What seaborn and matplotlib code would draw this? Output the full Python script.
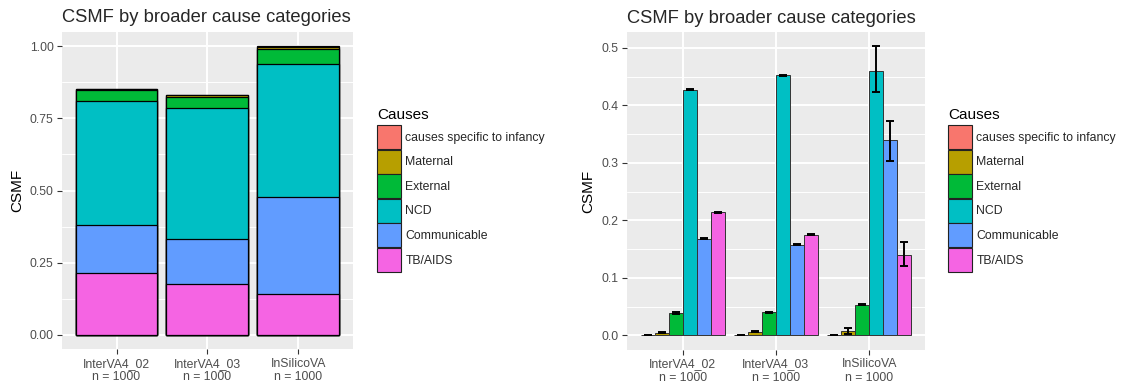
import numpy as np
import pandas as pd
import matplotlib
matplotlib.use("Agg")
import matplotlib.pyplot as plt
from matplotlib.patches import Patch
from matplotlib.ticker import MultipleLocator
import seaborn as sns

# ---- data -------------------------------------------------------------
methods = ["InterVA4_02", "InterVA4_03", "InSilicoVA"]
method_labels = ["InterVA4_02\nn = 1000", "InterVA4_03\nn = 1000", "InSilicoVA\nn = 1000"]
causes = ["causes specific to infancy", "Maternal", "External", "NCD",
          "Communicable", "TB/AIDS"]
palette = ["#F8766D", "#B79F00", "#00BA38", "#00BFC4", "#619CFF", "#F564E3"]

# CSMF point estimates, one list per method (in the order of `causes`)
csmf_interva02 = [0.000, 0.005, 0.039, 0.427, 0.168, 0.214]
csmf_interva03 = [0.000, 0.0065, 0.040, 0.452, 0.158, 0.175]
csmf_insilico = [0.0005, 0.008, 0.053, 0.459, 0.339, 0.140]

# lower / upper interval bounds
lower_interva02 = [0.000, 0.0045, 0.038, 0.426, 0.167, 0.213]
upper_interva02 = [0.000, 0.0055, 0.040, 0.428, 0.169, 0.215]
lower_interva03 = [0.000, 0.006, 0.039, 0.451, 0.157, 0.174]
upper_interva03 = [0.000, 0.007, 0.041, 0.453, 0.159, 0.176]
lower_insilico = [0.000, 0.003, 0.052, 0.423, 0.303, 0.120]
upper_insilico = [0.001, 0.013, 0.054, 0.503, 0.373, 0.162]

rows = []
for m, vals, lo, hi in [
    (methods[0], csmf_interva02, lower_interva02, upper_interva02),
    (methods[1], csmf_interva03, lower_interva03, upper_interva03),
    (methods[2], csmf_insilico, lower_insilico, upper_insilico),
]:
    for c, v, l, h in zip(causes, vals, lo, hi):
        rows.append({"method": m, "cause": c, "csmf": v, "lower": l, "upper": h})
df = pd.DataFrame(rows)

# ---- style ------------------------------------------------------------
sns.set_theme(style="darkgrid", rc={
    "axes.facecolor": "#EBEBEB",
    "grid.color": "white",
    "axes.edgecolor": "#EBEBEB",
    "xtick.color": "#333333",
    "ytick.color": "#333333",
    "xtick.labelcolor": "#4D4D4D",
    "ytick.labelcolor": "#4D4D4D",
    "axes.labelcolor": "black",
})
plt.rcParams["font.family"] = ["Liberation Sans", "DejaVu Sans"]

W, H = 1123, 385
fig = plt.figure(figsize=(W / 100, H / 100), dpi=100)


def px_axes(left, top, right, bottom):
    return fig.add_axes([left / W, 1 - bottom / H, (right - left) / W, (bottom - top) / H])


ax1 = px_axes(62, 31.8, 352.7, 349.3)
ax2 = px_axes(626.7, 32.3, 925, 350)


def style_axes(ax, minor_step):
    for s in ax.spines.values():
        s.set_visible(False)
    ax.yaxis.set_minor_locator(MultipleLocator(minor_step))
    ax.grid(which="major", color="white", linewidth=1.4)
    ax.grid(which="minor", axis="y", color="white", linewidth=0.7)
    ax.tick_params(which="major", length=3.5, width=0.8, labelsize=8.8, pad=2.5,
                   left=True, bottom=True)
    ax.tick_params(which="minor", length=0)
    ax.set_axisbelow(True)
    ax.set_xlabel("")
    ax.set_ylabel("CSMF", fontsize=11, labelpad=4)
    ax.set_title("CSMF by broader cause categories", loc="left", fontsize=13.2, pad=7)
    ax.set_xticks(range(len(methods)))
    ax.set_xticklabels(method_labels, fontsize=8.8, linespacing=1.2)
    ax.set_xlim(-0.6, 2.6)


# ---- left: stacked composition ---------------------------------------
wide = df.pivot(index="method", columns="cause", values="csmf").loc[methods, causes]
# stack with the last cause at the bottom; draw tallest cumulative first
cum = wide[causes[::-1]].cumsum(axis=1)
for c, col in zip(causes, palette):
    layer = pd.DataFrame({"method": methods, "top": cum[c].values})
    sns.barplot(data=layer, x="method", y="top", order=methods, color=col,
                saturation=1, width=0.9, edgecolor="black", linewidth=0.9,
                errorbar=None, ax=ax1)
ax1.set_ylim(-0.05, 1.05)
ax1.set_yticks([0, 0.25, 0.5, 0.75, 1.0])
ax1.set_yticklabels(["0.00", "0.25", "0.50", "0.75", "1.00"])
style_axes(ax1, 0.125)

# ---- right: dodged bars with intervals --------------------------------
sns.barplot(data=df, x="method", y="csmf", hue="cause", order=methods,
            hue_order=causes, palette=palette, saturation=1, width=0.9, gap=0,
            edgecolor="#333333", linewidth=0.7, errorbar=None, legend=False, ax=ax2)
for cont, c in zip(ax2.containers, causes):
    sub = df[df["cause"] == c].set_index("method").loc[methods]
    xs = [b.get_x() + b.get_width() / 2 for b in cont]
    # capsize is the half-width of each cap, in points
    ax2.errorbar(xs, sub["csmf"].values,
                 yerr=[sub["csmf"].values - sub["lower"].values,
                       sub["upper"].values - sub["csmf"].values],
                 fmt="none", ecolor="black", elinewidth=1.4, capsize=2.6, capthick=1.4)
ax2.set_ylim(-0.0254, 0.527)
ax2.set_yticks([0, 0.1, 0.2, 0.3, 0.4, 0.5])
ax2.set_yticklabels(["0.0", "0.1", "0.2", "0.3", "0.4", "0.5"])
style_axes(ax2, 0.05)

# ---- legends ----------------------------------------------------------
handles = [Patch(facecolor=col, edgecolor="#222222", linewidth=0.8) for col in palette]
for x_left in (377, 948):
    fig.text(x_left / W, 1 - 119 / H, "Causes", fontsize=11, ha="left",
             va="baseline", color="black")
    fig.legend(handles, causes, loc="upper left",
               bbox_to_anchor=(x_left / W, 1 - 125 / H), frameon=False,
               fontsize=8.8, handlelength=1.964, handleheight=2.64,
               labelspacing=0.05, handletextpad=0.35,
               borderpad=0, borderaxespad=0)

fig.savefig("out.png", dpi=100)
